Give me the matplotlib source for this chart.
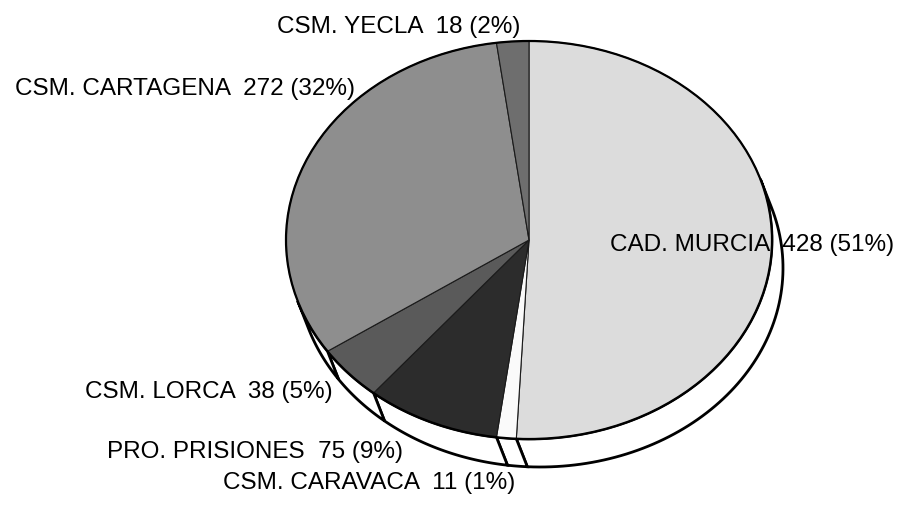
import numpy as np
import matplotlib
matplotlib.use("Agg")
import matplotlib.pyplot as plt
from matplotlib.patches import Wedge, Polygon, Ellipse
from matplotlib.transforms import Affine2D

# ---- datos ----
labels = ["CAD. MURCIA", "CSM. CARAVACA", "PRO. PRISIONES",
          "CSM. LORCA", "CSM. CARTAGENA", "CSM. YECLA"]
values = [428, 11, 75, 38, 272, 18]
pcts = [51, 1, 9, 5, 32, 2]
colors = ["#dcdcdc", "#fafafa", "#2c2c2c", "#5a5a5a", "#8e8e8e", "#6e6e6e"]

# posiciones de las etiquetas (px, esquina izquierda / centro vertical)
label_xy = [(610, 245), (223, 483), (107, 452), (85, 392), (15, 89), (277, 27)]

# geometria del pastel (px)
CX, CY, RX, RY = 529, 241, 243, 199
DX, DY = 11, 28

plt.rcParams["font.family"] = ["Liberation Sans", "DejaVu Sans"]

fig = plt.figure(figsize=(9.03, 5.06), dpi=100)
ax = fig.add_axes([0, 0, 1, 1])
ax.set_xlim(0, 903)
ax.set_ylim(506, 0)
ax.axis("off")

total = sum(values)
cum = np.concatenate([[0], np.cumsum(values)]) / total
t_start = 90 - 360 * cum[:-1]
t_end = 90 - 360 * cum[1:]

# tramo visible del lateral
t_tan = np.degrees(np.arctan2(DX / RX, DY / RY))
vis_lo, vis_hi = t_tan - 180, t_tan


def ell(t):
    r = np.radians(t)
    return np.column_stack([CX + RX * np.cos(r), CY - RY * np.sin(r)])


# lateral (canto blanco)
for a, b in zip(t_end, t_start):
    lo, hi = max(a, vis_lo), min(b, vis_hi)
    if hi <= lo:
        continue
    ts = np.linspace(lo, hi, 80)
    top = ell(ts)
    bot = top[::-1] + [DX, DY]
    ax.add_patch(Polygon(np.vstack([top, bot]), closed=True,
                         facecolor="white", edgecolor="black",
                         lw=2.0, zorder=1))

# cara superior
unit = Affine2D().scale(RX, -RY).translate(CX, CY) + ax.transData
for a, b, c in zip(t_end, t_start, colors):
    ax.add_patch(Wedge((0, 0), 1, a, b, facecolor=c, edgecolor="#1a1a1a",
                       lw=0.8, transform=unit, zorder=2))
ax.add_patch(Ellipse((CX, CY), 2 * RX, 2 * RY, fill=False,
                     edgecolor="black", lw=1.6, zorder=3))

for lab, v, p, (x, y) in zip(labels, values, pcts, label_xy):
    ax.text(x, y, f"{lab}  {v} ({p}%)", ha="left", va="center",
            fontsize=17.5, color="black", zorder=5)

fig.savefig("out.png", dpi=100)
